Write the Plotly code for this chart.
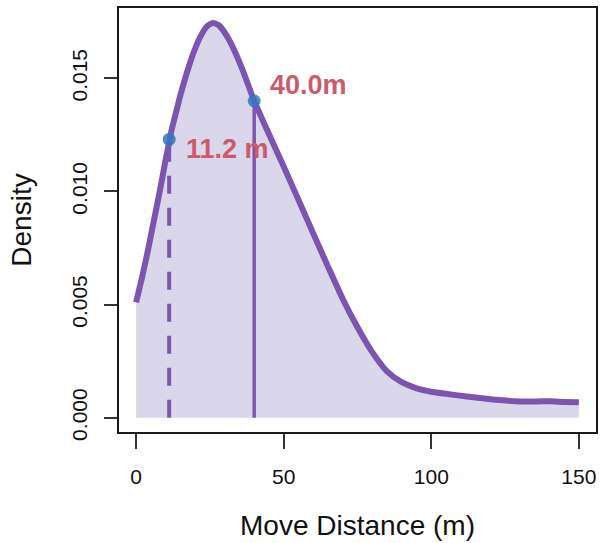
import plotly.graph_objects as go

# Density curve
dist_x = [0, 2, 4, 6, 8, 10, 11.2, 12, 14, 16, 18, 20, 22, 24, 26, 28, 30, 32, 36, 40,
          44, 50, 55, 60, 65, 70, 75, 80, 85, 90, 95, 100, 106, 112, 118, 124, 130,
          136, 140, 145, 150]
density_y = [0.0051, 0.0062, 0.0074, 0.0087, 0.0100, 0.0114, 0.01218, 0.0127, 0.01375, 0.01472,
             0.01558, 0.01632, 0.0169, 0.0173, 0.01745, 0.01735, 0.01703, 0.01658, 0.0154,
             0.0140, 0.01283, 0.0111, 0.00963, 0.00815, 0.00668, 0.00525, 0.0040, 0.0029,
             0.00205, 0.00157, 0.0013, 0.00115, 0.00104, 0.00094, 0.00085, 0.00077, 0.00072,
             0.00072, 0.00073, 0.0007, 0.00068]

# Marked distances
marker_x = [11.2, 40.0]
marker_y = [0.0123, 0.0140]
marker_labels = ["11.2 m", "40.0m"]
label_x = [16.3, 44.6]
label_y = [0.01188, 0.01470]

x_ticks = [0, 50, 100, 150]
y_ticks = [0, 0.005, 0.010, 0.015]
y_ticktext = ["0.000", "0.005", "0.010", "0.015"]

PURPLE = "#7c55b0"
FILL = "#dbd7ea"
BLUE = "rgba(52,120,190,0.85)"
TXT = "#cc5a6c"
FONT = "Liberation Sans, Arial, sans-serif"

fig = go.Figure()
fig.add_trace(go.Scatter(x=dist_x, y=density_y, mode="lines", fill="tozeroy",
                         fillcolor=FILL, line=dict(width=0, shape="spline", smoothing=0.6),
                         hoverinfo="skip", showlegend=False))
fig.add_trace(go.Scatter(x=[marker_x[0], marker_x[0]], y=[0, marker_y[0]], mode="lines",
                         line=dict(color=PURPLE, width=4, dash="18px,14px"), showlegend=False))
fig.add_trace(go.Scatter(x=[marker_x[1], marker_x[1]], y=[0, marker_y[1]], mode="lines",
                         line=dict(color=PURPLE, width=3.5), showlegend=False))
fig.add_trace(go.Scatter(x=dist_x, y=density_y, mode="lines",
                         line=dict(color=PURPLE, width=6, shape="spline", smoothing=0.6),
                         showlegend=False))
fig.add_trace(go.Scatter(x=marker_x, y=marker_y, mode="markers",
                         marker=dict(color=BLUE, size=13), showlegend=False))

for lx, ly, t in zip(label_x, label_y, marker_labels):
    fig.add_annotation(x=lx, y=ly, text="<b>%s</b>" % t, showarrow=False,
                       xanchor="left", yanchor="middle",
                       font=dict(family=FONT, size=27, color=TXT))

axis_common = dict(showgrid=False, zeroline=False, showline=True, mirror=True,
                   linecolor="#1a1a1a", linewidth=2, ticks="outside", tickwidth=2,
                   tickcolor="#333333", tickfont=dict(family=FONT, size=21, color="#111111"))

fig.update_xaxes(range=[-5.8, 155.8], tickvals=x_ticks, ticklen=15,
                 ticklabelstandoff=10,
                 title=dict(text="Move Distance (m)", font=dict(family=FONT, size=28, color="#111111"),
                            standoff=28),
                 **axis_common)
fig.update_yaxes(range=[-0.00063, 0.01811], tickvals=y_ticks, ticktext=y_ticktext,
                 tickangle=-90, ticklen=13, ticklabelstandoff=9,
                 title=dict(text="Density", font=dict(family=FONT, size=28, color="#111111"),
                            standoff=28),
                 **axis_common)

fig.update_layout(width=602, height=543, margin=dict(l=119, r=4, t=8, b=111),
                  plot_bgcolor="white", paper_bgcolor="white",
                  font=dict(family=FONT))

fig.write_html("out.html")
